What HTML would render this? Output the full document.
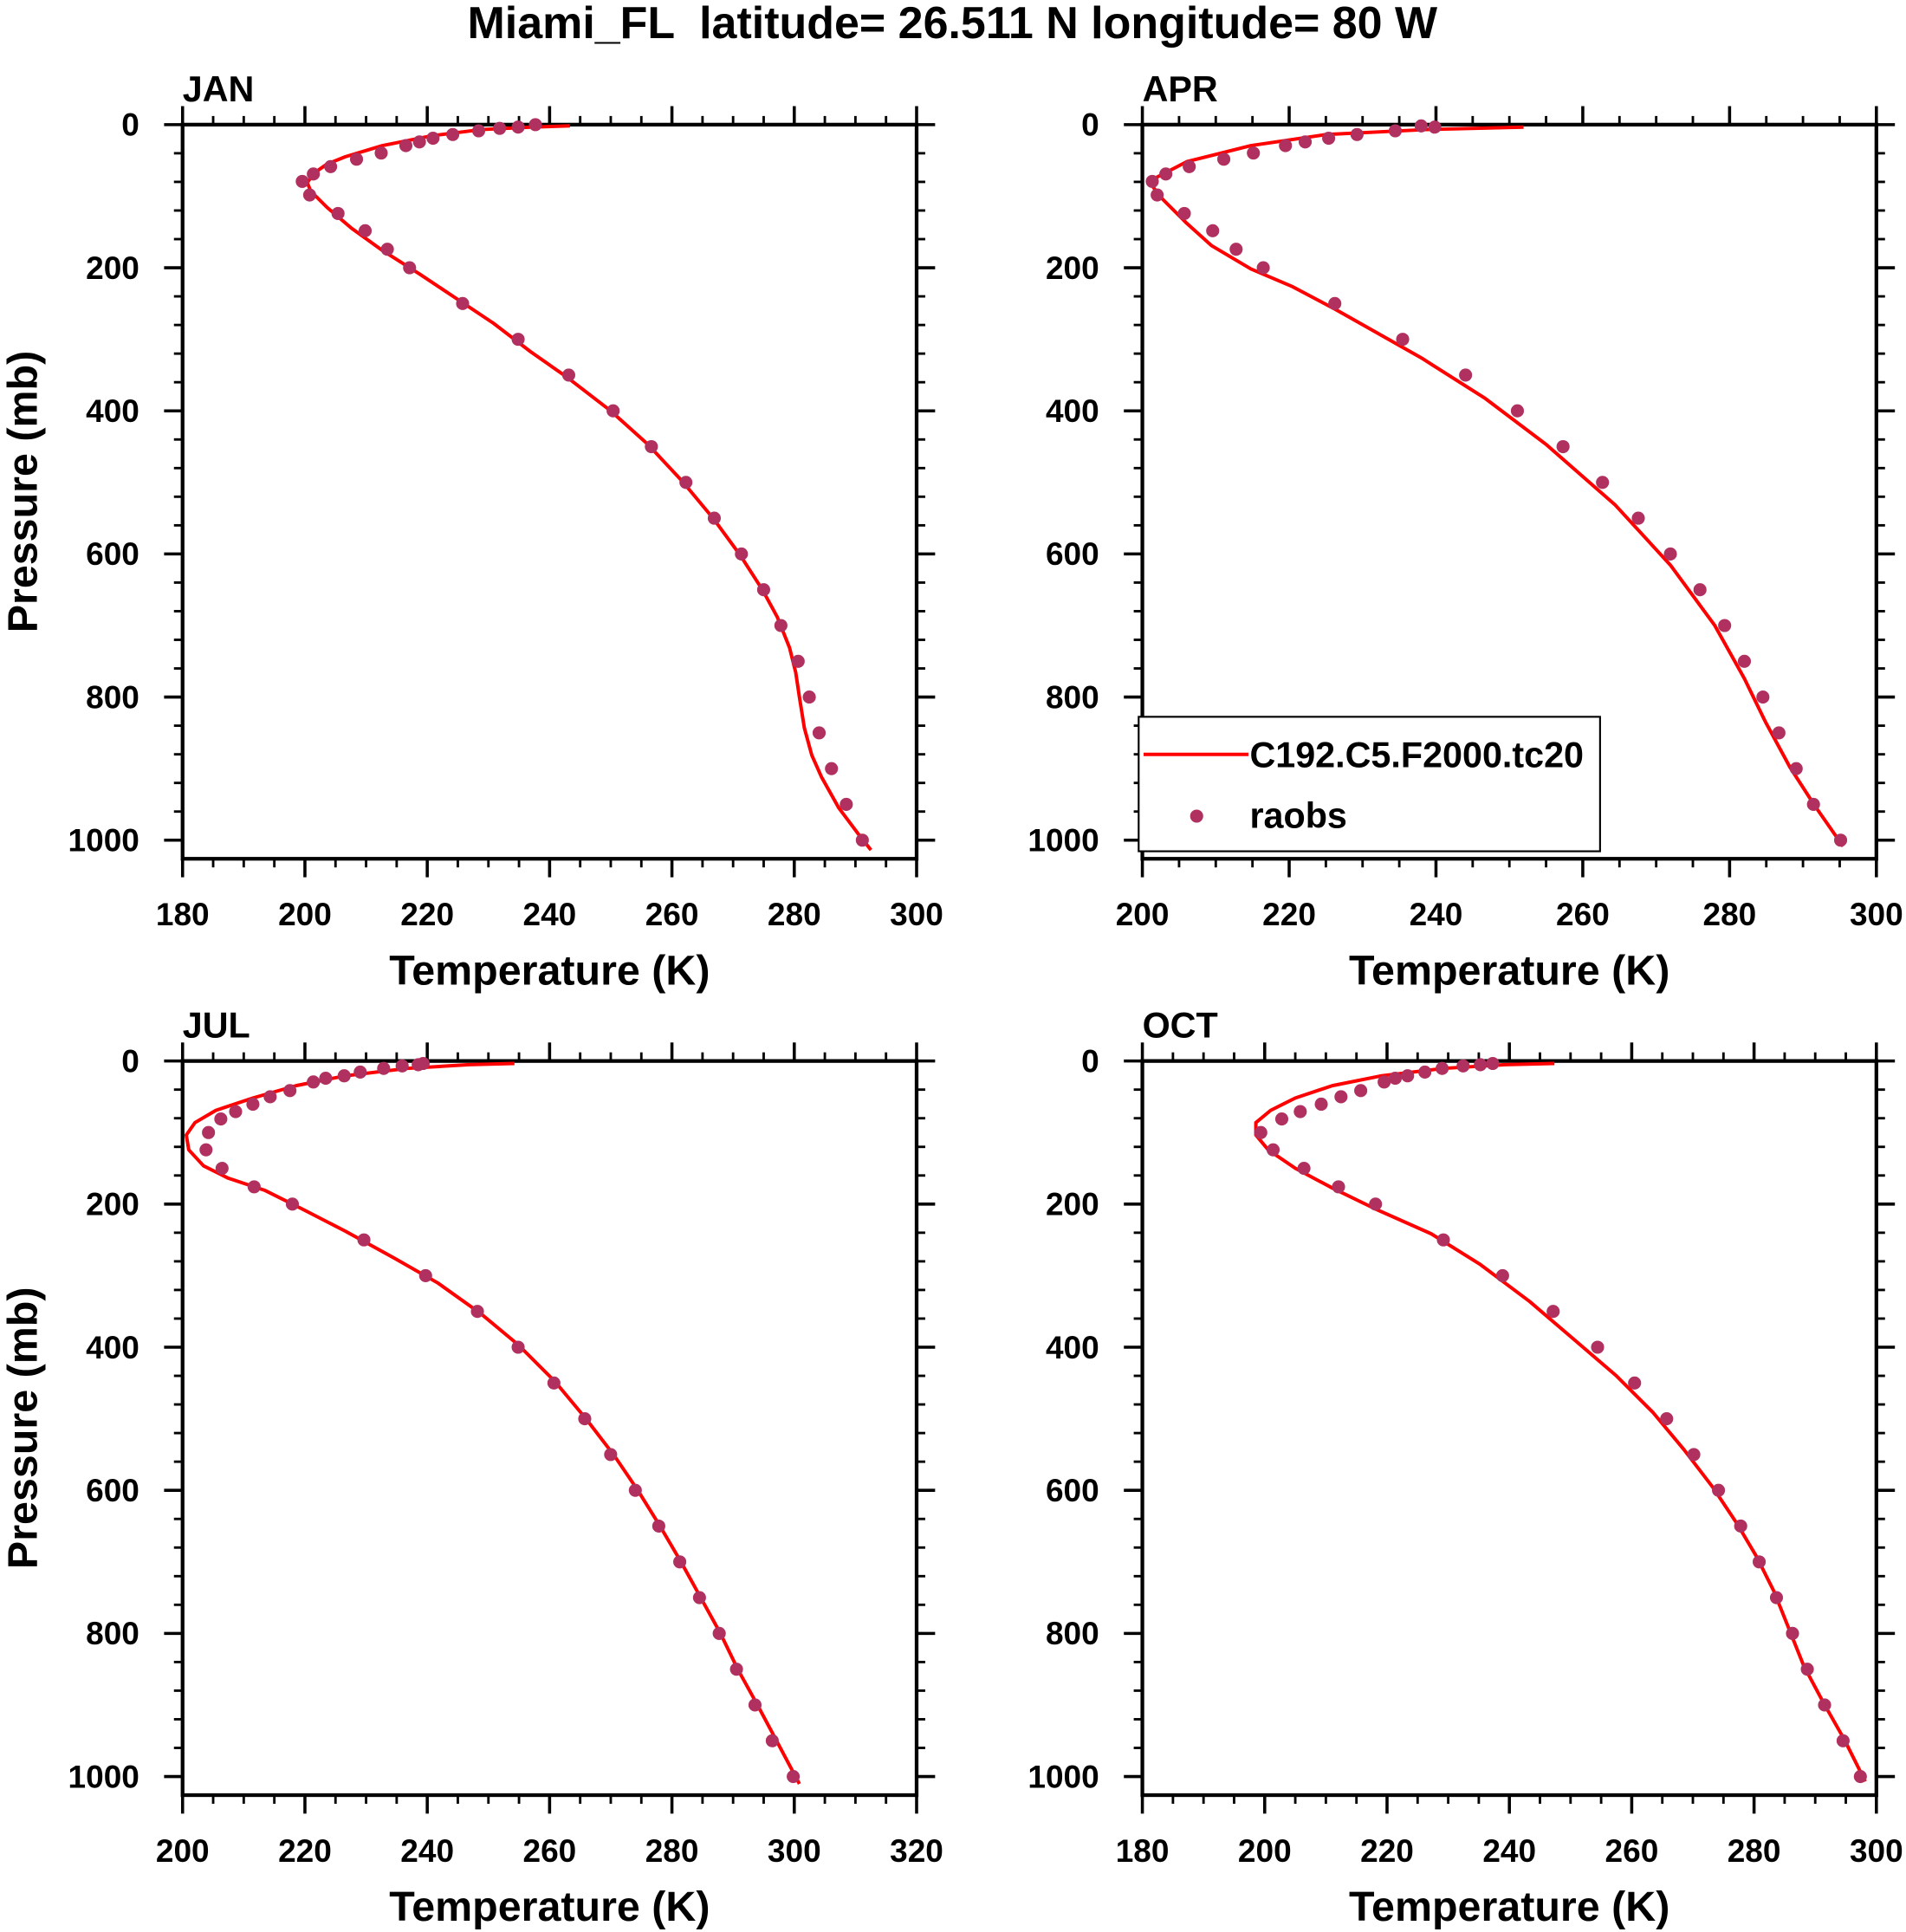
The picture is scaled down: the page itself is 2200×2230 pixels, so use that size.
<!DOCTYPE html>
<html><head><meta charset="utf-8"><style>
html,body{margin:0;padding:0;background:#fff;}
svg{display:block;}
text{font-family:"Liberation Sans",sans-serif;font-weight:bold;fill:#000;}
</style></head><body>
<svg id="s" width="2200" height="2230" viewBox="0 0 1545 1566" xmlns="http://www.w3.org/2000/svg">
<rect width="1545" height="1566" fill="#fff"/>
<text x="772" y="31" font-size="36.5" text-anchor="middle" xml:space="preserve">Miami_FL  latitude= 26.511 N longitude= 80 W</text>
<g id="g"></g>
</svg>
<script>
var NS="http://www.w3.org/2000/svg",G=document.getElementById("g");
function el(t,a,txt){var e=document.createElementNS(NS,t);for(var k in a)e.setAttribute(k,a[k]);if(txt!==undefined)e.textContent=txt;G.appendChild(e);return e;}
function panel(x0,x1,y0,xmin,xmax,label,dots,line,showY){
 var ky=0.58,y1=y0+1026*ky,kx=(x1-x0)/(xmax-xmin);
 for(var p=0;p<=1000;p+=40){var y=y0+p*ky;
  el("line",{x1:x0-7,y1:y,x2:x0,y2:y,stroke:"#000","stroke-width":2});el("line",{x1:x1,y1:y,x2:x1+7,y2:y,stroke:"#000","stroke-width":2});
 }
 for(var p=0;p<=1000;p+=200){var y=y0+p*ky;
  el("line",{x1:x0-15,y1:y,x2:x0,y2:y,stroke:"#000","stroke-width":2.5});el("line",{x1:x1,y1:y,x2:x1+15,y2:y,stroke:"#000","stroke-width":2.5});
  el("text",{x:x0-35,y:y+9,"font-size":26,"text-anchor":"end"},String(p));}
 for(var t=xmin;t<=xmax;t+=5){var x=x0+(t-xmin)*kx,maj=((t-xmin)%20==0),L=maj?15:7;
  el("line",{x1:x,y1:y1,x2:x,y2:y1+L,stroke:"#000","stroke-width":maj?2.5:2});
  el("line",{x1:x,y1:y0-L,x2:x,y2:y0,stroke:"#000","stroke-width":maj?2.5:2});
  if(maj)el("text",{x:x,y:y1+54,"font-size":26,"text-anchor":"middle"},String(t));}
 el("rect",{x:x0,y:y0,width:x1-x0,height:y1-y0,fill:"none",stroke:"#000","stroke-width":3});
 el("text",{x:x0,y:y0-19,"font-size":29},label);
 el("text",{x:(x0+x1)/2,y:y1+102,"font-size":34,"text-anchor":"middle"},"Temperature (K)");
 if(showY){var cy=(y0+y1)/2;el("text",{x:0,y:0,"font-size":34,"text-anchor":"middle",transform:"translate(30,"+cy+") rotate(-90)"},"Pressure (mb)");}
 el("polyline",{points:line.map(function(q){return q.join(",")}).join(" "),fill:"none",stroke:"#ff0000","stroke-width":2.8,"stroke-linejoin":"round"});
 dots.forEach(function(q){el("circle",{cx:q[0],cy:q[1],r:5.3,fill:"#b0305f"});});
}
panel(148,743,101,180,300,"JAN",
[[434,101],[420,103],[405,104],[388,106],[367,109],[351,112],[340,115],[329,118],[309,124],[289,129],[268,135],[254,141],[245,147],[251,158],[274,173],[296,187],[314,202],[332,217],[375,246],[420,275],[461,304],[497,333],[528,362],[556,391],[579,420],[601,449],[619,478],[633,507],[647,536],[656,565],[664,594],[674,623],[686,652],[699,681]],
[[462,102],[430,103],[390,105],[350,110],[310,118],[280,127],[265,133],[255,140],[249,148],[252,155],[265,168],[285,185],[310,203],[340,222],[370,242],[400,262],[430,285],[460,306],[495,333],[525,360],[553,390],[578,420],[600,450],[618,478],[630,500],[640,525],[645,545],[648,565],[652,590],[658,612],[666,630],[680,655],[695,675],[706,689]],true);
panel(926,1521,101,200,300,"APR",
[[1163,103],[1152,102],[1131,106],[1100,109],[1077,112],[1058,115],[1042,118],[1016,124],[992,129],[964,135],[945,141],[934,147],[938,158],[960,173],[983,187],[1002,202],[1024,217],[1082,246],[1137,275],[1188,304],[1230,333],[1267,362],[1299,391],[1328,420],[1354,449],[1378,478],[1398,507],[1414,536],[1429,565],[1442,594],[1456,623],[1470,652],[1492,681]],
[[1235,103],[1156,105],[1075,109],[1014,118],[962,131],[937,144],[935,152],[941,160],[962,181],[982,199],[1014,218],[1047,232],[1083,251],[1152,290],[1204,323],[1253,360],[1309,409],[1354,458],[1390,507],[1414,550],[1431,585],[1451,622],[1471,653],[1494,686]],false);
panel(148,743,860,200,320,"JUL",
[[343,862],[339,863],[326,864],[311,866],[292,869],[279,872],[264,874],[254,877],[235,884],[219,889],[205,895],[191,901],[179,907],[169,918],[167,932],[180,947],[206,962],[237,976],[295,1005],[345,1034],[387,1063],[420,1092],[449,1121],[474,1150],[495,1179],[515,1208],[534,1237],[551,1266],[567,1295],[583,1324],[597,1353],[612,1382],[626,1411],[643,1440]],
[[417,862],[380,863],[330,866],[280,872],[240,880],[205,890],[175,900],[158,910],[151,920],[153,932],[165,945],[185,955],[215,965],[245,980],[280,998],[320,1020],[355,1040],[390,1065],[420,1090],[450,1120],[475,1150],[498,1180],[517,1208],[535,1237],[552,1266],[568,1295],[584,1324],[598,1353],[614,1382],[630,1412],[648,1446]],true);
panel(926,1521,860,180,300,"OCT",
[[1210,862],[1200,863],[1186,864],[1169,866],[1155,869],[1141,872],[1131,874],[1122,877],[1103,884],[1087,889],[1071,895],[1054,901],[1039,907],[1022,918],[1032,932],[1057,947],[1085,962],[1115,976],[1170,1005],[1218,1034],[1259,1063],[1295,1092],[1325,1121],[1351,1150],[1373,1179],[1393,1208],[1411,1237],[1426,1266],[1440,1295],[1453,1324],[1465,1353],[1479,1382],[1494,1411],[1508,1440]],
[[1260,862],[1220,863],[1170,866],[1120,872],[1080,880],[1050,890],[1030,900],[1018,910],[1018,920],[1028,932],[1050,947],[1080,963],[1115,980],[1160,1000],[1200,1025],[1240,1055],[1275,1085],[1310,1115],[1340,1145],[1365,1175],[1388,1205],[1408,1235],[1424,1262],[1438,1290],[1450,1320],[1462,1350],[1478,1380],[1495,1410],[1512,1444]],false);
el("rect",{x:923,y:581,width:374,height:109,fill:"#fff",stroke:"#000","stroke-width":1.5});
el("line",{x1:927,y1:611.5,x2:1012,y2:611.5,stroke:"#ff0000","stroke-width":2.8});
el("text",{x:1013,y:622,"font-size":29},"C192.C5.F2000.tc20");
el("circle",{cx:970,cy:661.5,r:5.3,fill:"#b0305f"});
el("text",{x:1013,y:671,"font-size":29},"raobs");
</script>
</body></html>
